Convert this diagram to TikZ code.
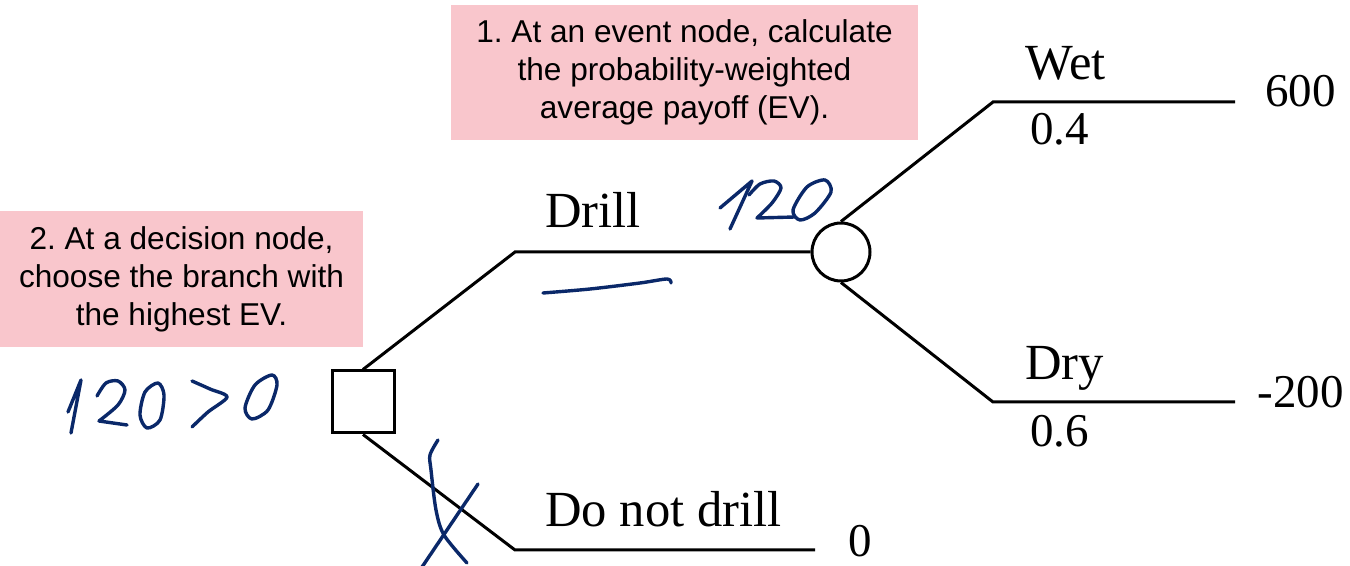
\documentclass[tikz,border=0pt]{standalone}
\usepackage{fontspec}
\setmainfont{Liberation Serif}
\newfontfamily\notefont{Liberation Sans}
\usepackage{tikz}
\usetikzlibrary{positioning, shapes.geometric}
\definecolor{notepink}{RGB}{249,198,204}
\definecolor{inkblue}{RGB}{10,40,105}
\frenchspacing

\begin{document}
\begin{tikzpicture}[
  x=0.5pt, y=-0.5pt,
  note/.style={rectangle, fill=notepink, align=center, inner sep=0pt, font=\notefont\fontsize{15.8}{19}\selectfont},
  lbl/.style={anchor=base west, inner sep=0pt, font=\fontsize{25.3}{28}\selectfont},
  val/.style={lbl, font=\fontsize{23.5}{28}\selectfont},
  branch/.style={line width=1.5pt, line join=miter},
  ink/.style={draw=inkblue, line width=1.7pt, line cap=round, line join=round}
]
\useasboundingbox (0,0) rectangle (1350,566);
\node[note, minimum width=233.5pt, minimum height=67.5pt] (evnote) at (684.5,72.5) {1. At an event node, calculate\\the probability-weighted\\average payoff (EV).};
\node[note, minimum width=181.5pt, minimum height=68pt] (decnote) at (181.5,279) {2. At a decision node,\\choose the branch with\\the highest EV.};
\node[rectangle, draw, line width=1.5pt, minimum size=31pt, inner sep=0pt] (dec) at (363,402) {};
\node[circle, draw, line width=1.5pt, minimum size=29pt, inner sep=0pt] (evt) at (841,252) {};
\coordinate (drillc) at (515,252);
\coordinate (nodrillc) at (515,550);
\coordinate (nodrille) at (815,550);
\coordinate (wetc) at (993,102);
\coordinate (wete) at (1235,102);
\coordinate (dryc) at (993,402);
\coordinate (drye) at (1235,402);
\draw[branch] (dec.north) -- (drillc) -- (evt.west);
\draw[branch] (dec.south) -- (nodrillc) -- (nodrille);
\draw[branch] (evt.north) -- (wetc) -- (wete);
\draw[branch] (evt.south) -- (dryc) -- (drye);
\node[lbl] (drill) at (545,228) {Drill};
\node[lbl] (nodrill) at (545,527) {Do not drill};
\node[val] (nodrillv) at (848,557) {0};
\node[lbl] (wet) at (1025,80) {Wet};
\node[val] (wetp) at (1030,145) {0.4};
\node[val] (wetv) at (1265,107) {600};
\node[lbl] (dry) at (1025,380) {Dry};
\node[val] (dryp) at (1030,447) {0.6};
\node[val] (dryv) at (1257,408) {-200};
\draw[ink] plot[smooth] coordinates {(68,412) (81,380)} -- (71,433);
\draw[ink] plot[smooth] coordinates {(97,396) (106,383) (118,381) (125,390) (118,405) (99,421)} -- (127,425);
\draw[ink] plot[smooth cycle] coordinates {(158,383) (164,395) (160,420) (147,428) (140,415) (145,392)};
\draw[ink] plot[smooth] coordinates {(192,381) (210,389) (227,397) (208,412) (192,427)};
\draw[ink] plot[smooth cycle] coordinates {(272,375) (277,385) (268,410) (252,419) (245,408) (255,385)};
\draw[ink] (720,208) -- (752,181) -- (730,229);
\draw[ink] plot[smooth] coordinates {(749,195) (760,184) (774,181) (781,188) (772,203) (757,218)} -- (795,217);
\draw[ink] plot[smooth cycle] coordinates {(825,180) (831,192) (815,213) (800,220) (793,210) (807,187)};
\draw[ink] plot[smooth] coordinates {(543,293) (590,289) (640,283) (667,279) (671,283)};
\draw[ink] plot[smooth] coordinates {(438,440) (430,455) (431,470) (436,510) (444,535) (467,563)};
\draw[ink] (478,484) -- (420,570);
\end{tikzpicture}
\end{document}
